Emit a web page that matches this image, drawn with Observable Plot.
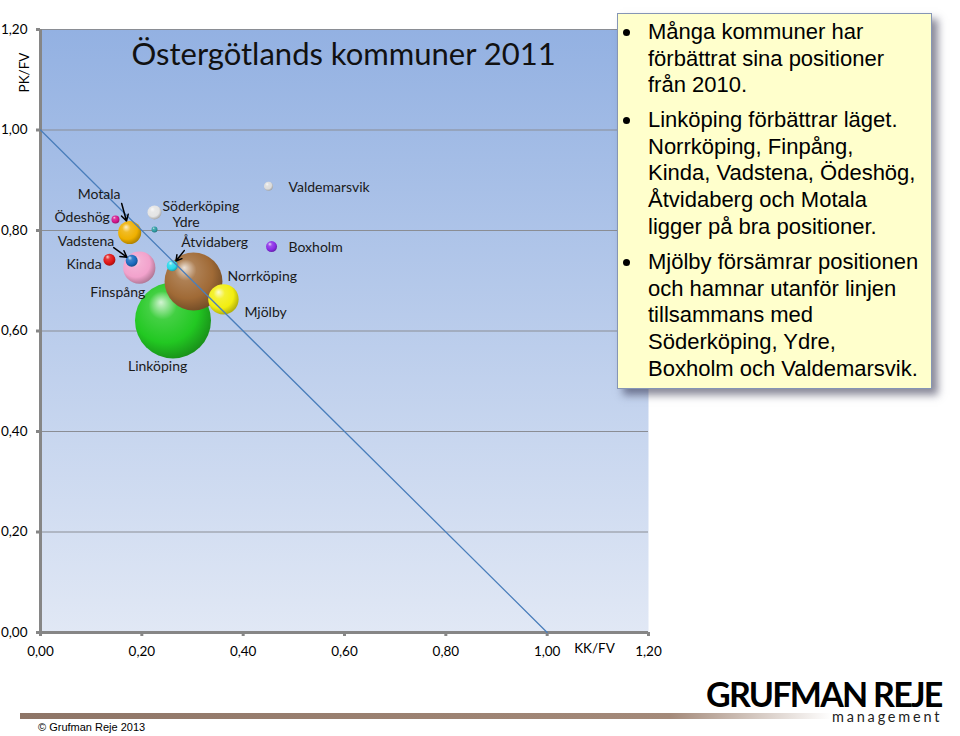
<!DOCTYPE html>
<html><head><meta charset="utf-8">
<script src="https://cdn.jsdelivr.net/npm/d3@7"></script>
<script src="https://cdn.jsdelivr.net/npm/@observablehq/plot@0.6"></script>
<style>
body{margin:0;background:#fff;width:960px;height:736px;overflow:hidden;position:relative;font-family:Lato,sans-serif;}
#chart{position:absolute;left:0;top:0;}
#note{position:absolute;left:617px;top:13px;width:315px;height:376px;background:#ffffcc;border:1px solid #8595b5;box-shadow:6px 6px 8px rgba(40,40,70,0.55);font-family:"Liberation Sans",Arial,sans-serif;font-size:22px;line-height:26.7px;color:#000;box-sizing:border-box;}
.p{position:absolute;left:30px;white-space:nowrap;}
.p::before{content:"";position:absolute;left:-25px;top:10px;width:7px;height:7px;border-radius:50%;background:#000;}
#bar{position:absolute;left:20px;top:713px;width:812px;height:6px;background:linear-gradient(to right,#8e7567 0%,#9c8272 50%,#a48a7a 80%,rgba(255,255,255,0) 100%);}
#copy{position:absolute;left:38px;top:721px;font-family:"Liberation Sans",Arial,sans-serif;font-size:11px;color:#000;}
#logo1{position:absolute;left:706px;top:679px;font-family:Lato,sans-serif;font-weight:bold;font-size:34px;line-height:30px;letter-spacing:-1.75px;color:#000;white-space:nowrap;}
#logo2{position:absolute;left:832px;top:710px;font-family:Lato,sans-serif;font-size:14.5px;line-height:14px;letter-spacing:2.8px;color:#222;white-space:nowrap;}
</style></head>
<body>
<div id="chart"></div>
<div id="note">
<div class="p" style="top:5px">Många kommuner har<br>förbättrat sina positioner<br>från 2010.</div>
<div class="p" style="top:93px">Linköping förbättrar läget.<br>Norrköping, Finpång,<br>Kinda, Vadstena, Ödeshög,<br>Åtvidaberg och Motala<br>ligger på bra positioner.</div>
<div class="p" style="top:235px">Mjölby försämrar positionen<br>och hamnar utanför linjen<br>tillsammans med<br>Söderköping, Ydre,<br>Boxholm och Valdemarsvik.</div>
</div>
<div id="bar"></div>
<div id="copy">© Grufman Reje 2013</div>
<div id="logo1">GRUFMAN REJE</div>
<div id="logo2">management</div>
<script>
// ---- data ----
const names = ["Linköping","Norrköping","Mjölby","Finspång","Vadstena","Kinda","Motala","Ödeshög","Söderköping","Ydre","Åtvidaberg","Valdemarsvik","Boxholm"];
const kkfv = [0.2615,0.302,0.361,0.195,0.180,0.136,0.176,0.148,0.225,0.225,0.260,0.450,0.456];
const pkfv = [0.621,0.6985,0.663,0.726,0.740,0.742,0.796,0.822,0.836,0.802,0.730,0.888,0.768];
const bubbleSize = [100,58,16,18,2.5,2.5,9.2,1.1,3.4,0.6,2.1,1.4,2.1];
const xTicks = [0,0.2,0.4,0.6,0.8,1.0,1.2];
const yTicks = [0,0.2,0.4,0.6,0.8,1.0,1.2];
const tickLabels = ["0,00","0,20","0,40","0,60","0,80","1,00","1,20"];
const refLineX = [0,1];
const refLineY = [1,0];
const title = "Östergötlands kommuner 2011";

// ---- styling ----
const ballColors = ["#22c822","#a06a36","#f2ee10","#f2a2cc","#1b6cc0","#e01616","#efb000","#d4168c","#e4e4e4","#2c9ca2","#2ad8ea","#dcdcdc","#8a2ce6"];
const labelOffsets = {
  "Linköping":[-45,46],"Norrköping":[34,-5],"Mjölby":[21,13],"Finspång":[-49,25],
  "Vadstena":[-74,-19],"Kinda":[-43,5],"Motala":[-52,-38],"Ödeshög":[-61,-2],
  "Söderköping":[8,-6],"Ydre":[18,-7],"Åtvidaberg":[9,-23],"Valdemarsvik":[20,1],"Boxholm":[17,1]
};
const arrows = [
  {name:"Motala", ax:-0.0158, ay:0.0577, inset:12},
  {name:"Vadstena", ax:-0.0355, ay:0.0259, inset:6},
  {name:"Åtvidaberg", ax:0.0237, ay:0.0299, inset:6}
];

const data = names.map((n,i)=>({name:n, x:kkfv[i], y:pkfv[i], size:bubbleSize[i], i}));
const byName = Object.fromEntries(data.map(d=>[d.name,d]));
const fmt = d => tickLabels[xTicks.findIndex(t=>Math.abs(t-d)<1e-9)];

function defsMark(){
  const defs = d3.create("svg:defs");
  const bg = defs.append("linearGradient").attr("id","bgGrad").attr("x1",0).attr("y1",0).attr("x2",0).attr("y2",1);
  bg.append("stop").attr("offset","0%").attr("stop-color","#93b1e2");
  bg.append("stop").attr("offset","100%").attr("stop-color","#e1e8f5");
  ballColors.forEach((c,i)=>{
    const g = defs.append("radialGradient").attr("id","ball"+i).attr("cx","42%").attr("cy","40%").attr("r","62%").attr("fx","34%").attr("fy","26%");
    g.append("stop").attr("offset","0%").attr("stop-color", d3.interpolateRgb(c,"#fff")(0.8));
    g.append("stop").attr("offset","30%").attr("stop-color", d3.interpolateRgb(c,"#fff")(0.15));
    g.append("stop").attr("offset","70%").attr("stop-color", c);
    g.append("stop").attr("offset","100%").attr("stop-color", d3.color(c).darker(0.9).formatHex());
  });
  return defs.node();
}

const plot = Plot.plot({
  width: 960, height: 736,
  marginLeft: 40, marginRight: 312, marginTop: 29, marginBottom: 104,
  style: {fontFamily: "Lato, sans-serif", background: "transparent", overflow: "visible"},
  x: {domain: [0, 1.2]},
  y: {domain: [0, 1.2]},
  r: {type: "sqrt", domain: [0, 100], range: [0, 38]},
  marks: [
    defsMark,
    Plot.frame({fill: "url(#bgGrad)"}),
    Plot.ruleY(yTicks.slice(1), {stroke: "#8a8d94", strokeWidth: 1}),
    Plot.axisX({ticks: xTicks, tickFormat: fmt, tickSize: 4, tickPadding: 10, stroke: "#868686", strokeWidth: 3, fill: "#000", fontSize: 13.5, label: null}),
    Plot.axisY({ticks: yTicks, tickFormat: fmt, tickSize: 4, tickPadding: 9, stroke: "#868686", strokeWidth: 3, fill: "#000", fontSize: 13.5, label: null}),
    Plot.ruleY([0], {stroke: "#868686", strokeWidth: 3}),
    Plot.ruleX([0], {stroke: "#868686", strokeWidth: 3}),
    Plot.dot(data, {x: "x", y: "y", r: "size", fill: d => `url(#ball${d.i})`, sort: null}),
    Plot.line(refLineX.map((x,i)=>({x, y: refLineY[i]})), {x: "x", y: "y", stroke: "#4a7ebb", strokeWidth: 1.3}),
    ...names.map(n => Plot.text([byName[n]], {x: "x", y: "y", text: "name", textAnchor: "start", dx: labelOffsets[n][0], dy: labelOffsets[n][1], fontSize: 14, fill: "#1a1a1a"})),
    ...arrows.map(a => Plot.arrow([byName[a.name]], {x1: d => d.x + a.ax, y1: d => d.y + a.ay, x2: "x", y2: "y", insetEnd: a.inset, stroke: "#000", strokeWidth: 1.5, headLength: 7})),
    Plot.text([title], {frameAnchor: "top-left", textAnchor: "start", lineAnchor: "middle", dx: 91, dy: 26, fontSize: 31, fill: "#111"}),
    Plot.text(["PK/FV"], {frameAnchor: "top-left", textAnchor: "middle", lineAnchor: "middle", dx: -16, dy: 43, rotate: -90, fontSize: 13.5, fill: "#000"}),
    Plot.text(["KK/FV"], {frameAnchor: "bottom-right", textAnchor: "middle", lineAnchor: "middle", dx: -54, dy: 16, fontSize: 13.5, fill: "#000"})
  ]
});
document.getElementById("chart").appendChild(plot);
</script>
</body></html>
